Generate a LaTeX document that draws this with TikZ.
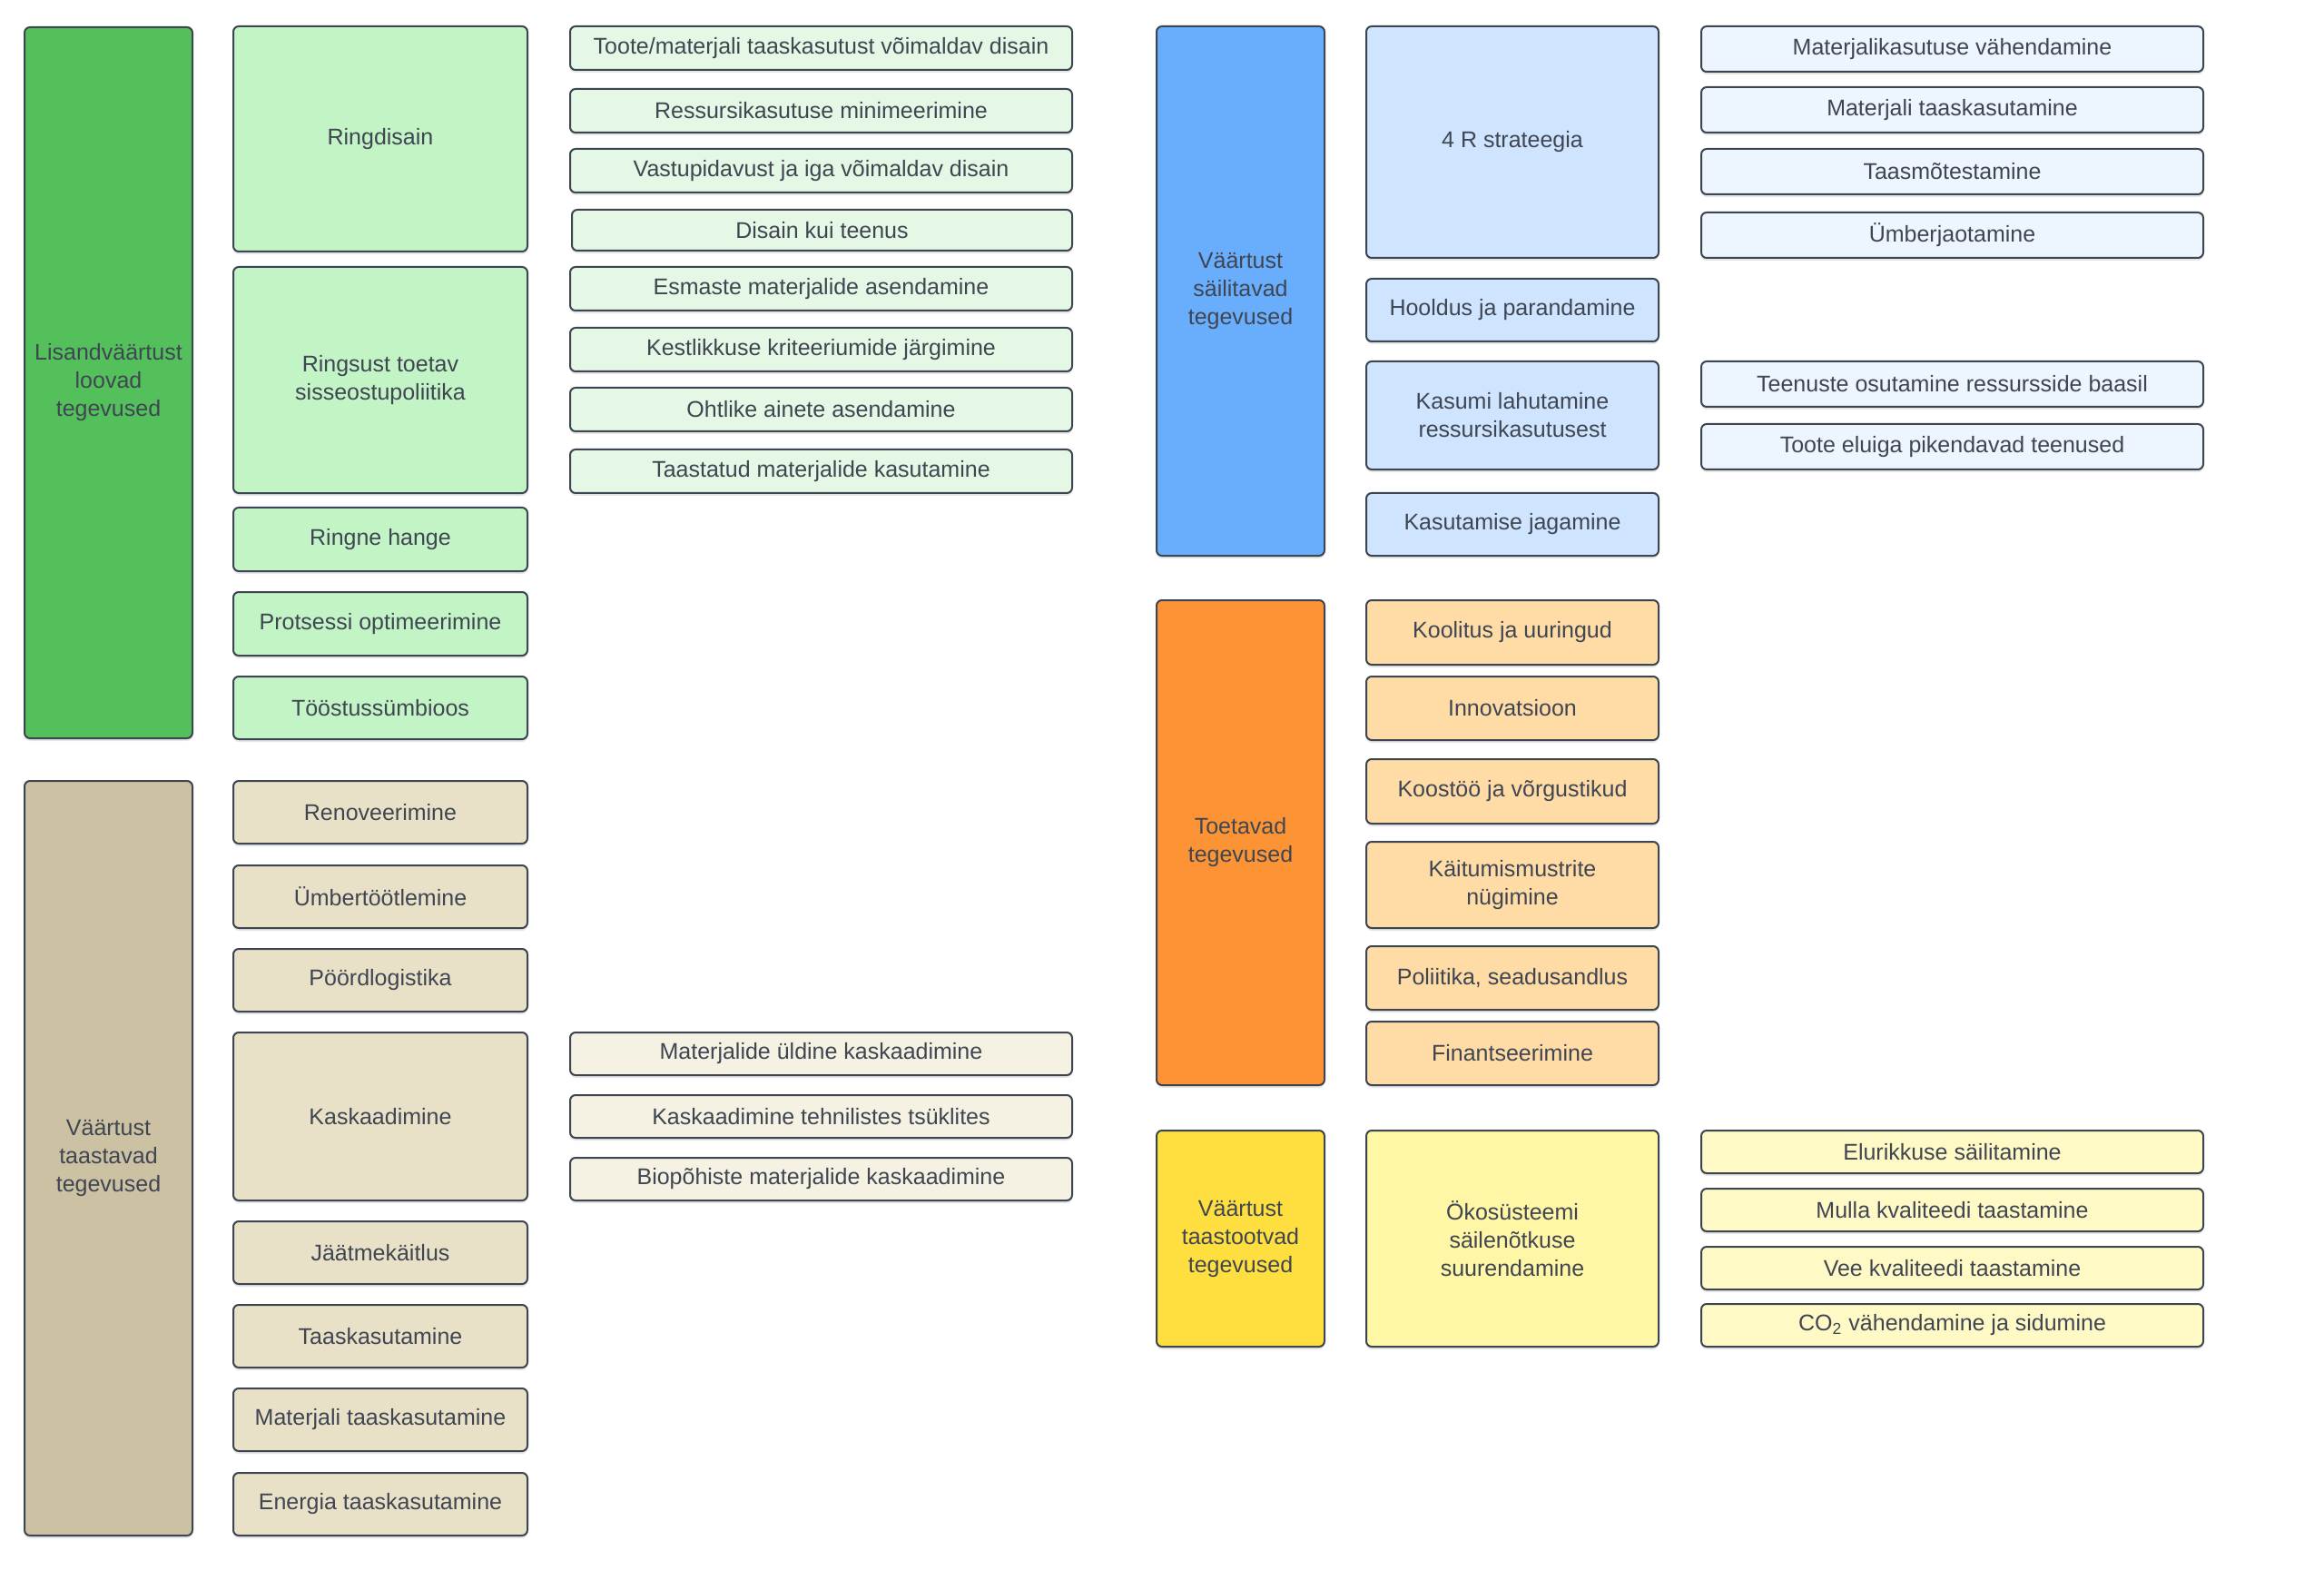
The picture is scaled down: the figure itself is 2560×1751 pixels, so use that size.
\documentclass[tikz,border=0pt]{standalone}
\usepackage{fontspec}
\setmainfont{Liberation Sans}
\usepackage{xcolor}
\usepackage{tikz}
\usetikzlibrary{shadows}

\definecolor{edge}{HTML}{3D4550}
\definecolor{txt}{HTML}{3F4651}
\definecolor{grA}{HTML}{54C05C}
\definecolor{grM}{HTML}{C3F4C6}
\definecolor{grS}{HTML}{E4F8E5}
\definecolor{tnA}{HTML}{CCC1A2}
\definecolor{tnM}{HTML}{E9E1C7}
\definecolor{tnS}{HTML}{F5F1E3}
\definecolor{blA}{HTML}{69ADFD}
\definecolor{blM}{HTML}{CFE4FF}
\definecolor{blS}{HTML}{EDF5FF}
\definecolor{orA}{HTML}{FC9435}
\definecolor{orM}{HTML}{FFDBA6}
\definecolor{ylA}{HTML}{FFDF3F}
\definecolor{ylM}{HTML}{FFF6A6}
\definecolor{ylS}{HTML}{FFF9C6}

\begin{document}
\begin{tikzpicture}[x=0.4pt,y=-0.4pt,
    box/.style={draw=edge,line width=0.8pt,rounded corners=2.4pt,anchor=north west,
        inner sep=0pt,align=center,text=txt,font=\fontsize{10}{12.4}\selectfont,
        drop shadow={shadow xshift=0pt,shadow yshift=-1.2pt,opacity=0.2}},
    group/.style={box,minimum width=74pt},
    item/.style={box,minimum width=129.6pt,minimum height=27.6pt},
    sub/.style={box,minimum width=221.2pt,minimum height=19.2pt}]
    \fill[white] (0,0) rectangle (2560,1751);
    \useasboundingbox (0,0) rectangle (2560,1751);

    % Lisandvaartust loovad tegevused
    \node[group,fill=grA,minimum height=313.2pt] (lisand) at (26,29) {Lisandväärtust\\loovad\\tegevused};
    \node[item,fill=grM,minimum height=99.2pt] (ringdisain) at (256,28) {Ringdisain};
    \node[item,fill=grM,minimum height=99.6pt] (ringsust) at (256,293) {Ringsust toetav\\sisseostupoliitika};
    \node[item,fill=grM,minimum height=28pt] (hange) at (256,558) {Ringne hange};
    \node[item,fill=grM,minimum height=28pt] (protsess) at (256,651) {Protsessi optimeerimine};
    \node[item,fill=grM] (symbioos) at (256,744) {Tööstussümbioos};

    \node[sub,fill=grS] (toote) at (627,28) {Toote/materjali taaskasutust võimaldav disain};
    \node[sub,fill=grS] (minim) at (627,97) {Ressursikasutuse minimeerimine};
    \node[sub,fill=grS] (vastup) at (627,163) {Vastupidavust ja iga võimaldav disain};
    \node[sub,fill=grS,minimum width=220.4pt,minimum height=18pt] (teenus) at (629,230) {Disain kui teenus};
    \node[sub,fill=grS] (esmaste) at (627,293) {Esmaste materjalide asendamine};
    \node[sub,fill=grS] (kriteer) at (627,360) {Kestlikkuse kriteeriumide järgimine};
    \node[sub,fill=grS] (ohtlike) at (627,426) {Ohtlike ainete asendamine};
    \node[sub,fill=grS] (taastatud) at (627,494) {Taastatud materjalide kasutamine};

    % Vaartust taastavad tegevused
    \node[group,fill=tnA,minimum height=332.4pt] (taastav) at (26,859) {Väärtust\\taastavad\\tegevused};
    \node[item,fill=tnM] (renov) at (256,859) {Renoveerimine};
    \node[item,fill=tnM] (umber) at (256,952) {Ümbertöötlemine};
    \node[item,fill=tnM] (poord) at (256,1044) {Pöördlogistika};
    \node[item,fill=tnM,minimum height=74pt] (kaskaad) at (256,1136) {Kaskaadimine};
    \node[item,fill=tnM] (jaatme) at (256,1344) {Jäätmekäitlus};
    \node[item,fill=tnM] (taaskas) at (256,1436) {Taaskasutamine};
    \node[item,fill=tnM] (mattaas) at (256,1528) {Materjali taaskasutamine};
    \node[item,fill=tnM] (energia) at (256,1621) {Energia taaskasutamine};

    \node[sub,fill=tnS,minimum height=18.8pt] (uldine) at (627,1136) {Materjalide üldine kaskaadimine};
    \node[sub,fill=tnS,minimum height=18.8pt] (tehn) at (627,1205) {Kaskaadimine tehnilistes tsüklites};
    \node[sub,fill=tnS,minimum height=18.8pt] (bio) at (627,1274) {Biopõhiste materjalide kaskaadimine};

    % Vaartust sailitavad tegevused
    \node[group,fill=blA,minimum height=233.2pt] (sailit) at (1273,28) {Väärtust\\säilitavad\\tegevused};
    \node[item,fill=blM,minimum width=128.8pt,minimum height=102pt] (neliR) at (1504,28) {4 R strateegia};
    \node[item,fill=blM,minimum width=128.8pt] (hooldus) at (1504,306) {Hooldus ja parandamine};
    \node[item,fill=blM,minimum width=128.8pt,minimum height=47.6pt] (kasum) at (1504,397) {Kasumi lahutamine\\ressursikasutusest};
    \node[item,fill=blM,minimum width=128.8pt] (jagam) at (1504,542) {Kasutamise jagamine};

    \node[sub,fill=blS,minimum height=20pt] (vahend) at (1873,28) {Materjalikasutuse vähendamine};
    \node[sub,fill=blS,minimum height=20pt] (materj) at (1873,95) {Materjali taaskasutamine};
    \node[sub,fill=blS,minimum height=20pt] (moteste) at (1873,163) {Taasmõtestamine};
    \node[sub,fill=blS,minimum height=20pt] (jaotam) at (1873,233) {Ümberjaotamine};
    \node[sub,fill=blS,minimum height=20pt] (osutam) at (1873,397) {Teenuste osutamine ressursside baasil};
    \node[sub,fill=blS,minimum height=20pt] (eluiga) at (1873,466) {Toote eluiga pikendavad teenused};

    % Toetavad tegevused
    \node[group,fill=orA,minimum height=213.6pt] (toetav) at (1273,660) {Toetavad\\tegevused};
    \node[item,fill=orM,minimum width=128.8pt,minimum height=28.4pt] (koolitus) at (1504,660) {Koolitus ja uuringud};
    \node[item,fill=orM,minimum width=128.8pt,minimum height=28pt] (innov) at (1504,744) {Innovatsioon};
    \node[item,fill=orM,minimum width=128.8pt,minimum height=28.4pt] (koostoo) at (1504,835) {Koostöö ja võrgustikud};
    \node[item,fill=orM,minimum width=128.8pt,minimum height=38pt] (nugimine) at (1504,926) {Käitumismustrite\\nügimine};
    \node[item,fill=orM,minimum width=128.8pt,minimum height=28pt] (poliitika) at (1504,1041) {Poliitika, seadusandlus};
    \node[item,fill=orM,minimum width=128.8pt,minimum height=28pt] (finants) at (1504,1124) {Finantseerimine};

    % Vaartust taastootvad tegevused
    \node[group,fill=ylA,minimum height=95.2pt] (taastoot) at (1273,1244) {Väärtust\\taastootvad\\tegevused};
    \node[item,fill=ylM,minimum width=128.8pt,minimum height=95.2pt] (okosys) at (1504,1244) {Ökosüsteemi\\säilenõtkuse\\suurendamine};

    \node[sub,fill=ylS,minimum height=18.8pt] (eluri) at (1873,1244) {Elurikkuse säilitamine};
    \node[sub,fill=ylS,minimum height=18.8pt] (mulla) at (1873,1308) {Mulla kvaliteedi taastamine};
    \node[sub,fill=ylS,minimum height=18.8pt] (vee) at (1873,1372) {Vee kvaliteedi taastamine};
    \node[sub,fill=ylS,minimum height=18.8pt] (co2) at (1873,1435) {CO\textsubscript{2} vähendamine ja sidumine};
\end{tikzpicture}
\end{document}
